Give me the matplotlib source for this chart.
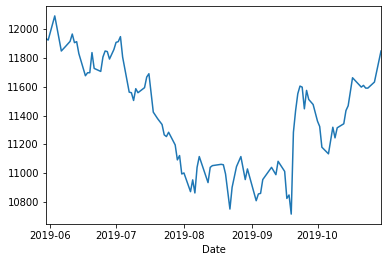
import matplotlib
matplotlib.use('Agg')
import matplotlib.pyplot as plt
import numpy as np
import pandas as pd

# values
dates = ['2019-05-30', '2019-05-31', '2019-06-03', '2019-06-06', '2019-06-08',
         '2019-06-10', '2019-06-11', '2019-06-12', '2019-06-13', '2019-06-14',
         '2019-06-17', '2019-06-18', '2019-06-19', '2019-06-20', '2019-06-21',
         '2019-06-24', '2019-06-25', '2019-06-26', '2019-06-27', '2019-06-28',
         '2019-06-30', '2019-07-01', '2019-07-02', '2019-07-03', '2019-07-04',
         '2019-07-07', '2019-07-08', '2019-07-09', '2019-07-10', '2019-07-11',
         '2019-07-14', '2019-07-15', '2019-07-16', '2019-07-18', '2019-07-20',
         '2019-07-22', '2019-07-23', '2019-07-24', '2019-07-25', '2019-07-28',
         '2019-07-29', '2019-07-30', '2019-07-31', '2019-08-01', '2019-08-04',
         '2019-08-05', '2019-08-06', '2019-08-07', '2019-08-08', '2019-08-12',
         '2019-08-13', '2019-08-14', '2019-08-18', '2019-08-19', '2019-08-20',
         '2019-08-22', '2019-08-23', '2019-08-25', '2019-08-27', '2019-08-29',
         '2019-08-30', '2019-09-03', '2019-09-04', '2019-09-05', '2019-09-06',
         '2019-09-10', '2019-09-12', '2019-09-13', '2019-09-16', '2019-09-17',
         '2019-09-18', '2019-09-19', '2019-09-20', '2019-09-21', '2019-09-22',
         '2019-09-23', '2019-09-24', '2019-09-25', '2019-09-26', '2019-09-27',
         '2019-09-29', '2019-10-01', '2019-10-02', '2019-10-03', '2019-10-06',
         '2019-10-08', '2019-10-09', '2019-10-10', '2019-10-13', '2019-10-14',
         '2019-10-15', '2019-10-17', '2019-10-21', '2019-10-22', '2019-10-23',
         '2019-10-24', '2019-10-27', '2019-10-30']

values = [11935, 11925, 12093, 11849, 11882,
          11916, 11967, 11907, 11914, 11831,
          11677, 11698, 11698, 11838, 11728,
          11707, 11807, 11849, 11845, 11793,
          11859, 11909, 11914, 11949, 11807,
          11563, 11559, 11505, 11587, 11559,
          11594, 11668, 11691, 11424, 11378,
          11338, 11266, 11254, 11284, 11196,
          11092, 11122, 10994, 11001, 10871,
          10953, 10862, 11040, 11115, 10934,
          11040, 11052, 11061, 11058, 10994,
          10750, 10901, 11045, 11115, 10955,
          11029, 10808, 10855, 10859, 10955,
          11040, 10989, 11082, 11012, 10824,
          10848, 10715, 11284, 11435, 11552,
          11605, 11598, 11447, 11575, 11512,
          11477, 11361, 11324, 11180, 11134,
          11319, 11245, 11315, 11343, 11435,
          11468, 11663, 11598, 11610, 11591,
          11591, 11633, 11849]

date = pd.to_datetime(dates)

plt.rcParams['font.size'] = 10

fig = plt.figure(figsize=(387 / 72, 262 / 72), dpi=72)
ax = fig.add_axes([46 / 387, 38 / 262, 335 / 387, 218 / 262])

ax.plot(date, values, color='#1f77b4', linewidth=1.5)
ax.set_xlim(date[0], date[-1])
ax.set_xlabel('Date')

fig.savefig('out.png', dpi=72)
